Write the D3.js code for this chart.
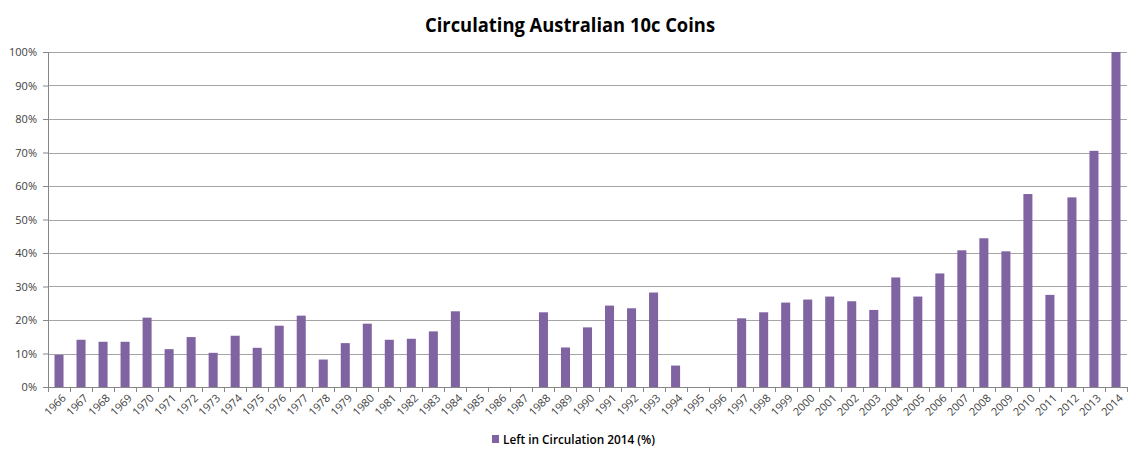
<!DOCTYPE html>
<html>
<head>
<meta charset="utf-8">
<script src="https://cdn.jsdelivr.net/npm/d3@7"></script>
<style>
  html, body { margin: 0; padding: 0; background: #fff; }
  text { font-family: "Open Sans", "Noto Sans", sans-serif; }
</style>
</head>
<body>
<svg id="chart" width="1140" height="464"></svg>
<script>
// Years 1966..2014
const years = d3.range(1966, 2015).map(String);

// Left in circulation 2014 (%)
const leftInCirculation = [
  9.6, 14.1, 13.5, 13.5, 20.7, 11.3, 14.9, 10.2, 15.3, 11.7,
  18.3, 21.3, 8.2, 13.1, 18.9, 14.1, 14.4, 16.6, 22.6, 0,
  0, 0, 22.3, 11.8, 17.8, 24.3, 23.5, 28.2, 6.4, 0,
  0, 20.5, 22.3, 25.2, 26.1, 27.0, 25.6, 23.0, 32.7, 27.0,
  33.9, 40.8, 44.4, 40.5, 57.6, 27.5, 56.6, 70.5, 100
];

const yTicks = [0, 10, 20, 30, 40, 50, 60, 70, 80, 90, 100];

const title = 'Circulating Australian 10c Coins';
const seriesName = 'Left in Circulation 2014 (%)';
const barColor = '#8064a2';

const svg = d3.select('#chart');
const margin = { top: 52, right: 13, bottom: 77, left: 48 };
const width = 1140 - margin.left - margin.right;
const height = 464 - margin.top - margin.bottom;

const x = d3.scaleBand()
  .domain(years)
  .range([0, width])
  .paddingInner(0.59)
  .paddingOuter(0.295);

const y = d3.scaleLinear()
  .domain([0, 100])
  .range([height, 0]);

const g = svg.append('g')
  .attr('transform', `translate(${margin.left},${margin.top})`);

// gridlines
g.append('g')
  .selectAll('line')
  .data(yTicks.filter(d => d > 0))
  .join('line')
  .attr('x1', 0)
  .attr('x2', width)
  .attr('y1', d => Math.round(y(d)) + 0.5)
  .attr('y2', d => Math.round(y(d)) + 0.5)
  .attr('stroke', '#a5a5a5')
  .attr('stroke-width', 1);

// bars
g.append('g')
  .selectAll('rect')
  .data(leftInCirculation)
  .join('rect')
  .attr('x', (d, i) => x(years[i]))
  .attr('width', x.bandwidth())
  .attr('y', d => y(d))
  .attr('height', d => height - y(d))
  .attr('fill', barColor);

// y axis
const yAxis = g.append('g')
  .call(d3.axisLeft(y).tickValues(yTicks).tickSize(5).tickPadding(6).tickFormat(d => d + '%'));
yAxis.select('.domain').attr('stroke', '#868686').attr('d', `M0.5,${height}V0`);
yAxis.selectAll('.tick line').attr('stroke', '#868686');
yAxis.selectAll('.tick text')
  .attr('fill', '#404040')
  .style('font-size', '11px');

// x axis: ticks between categories
const xAxisG = g.append('g').attr('transform', `translate(0,${height})`);
xAxisG.append('line')
  .attr('x1', 0).attr('x2', width)
  .attr('y1', 0.5).attr('y2', 0.5)
  .attr('stroke', '#868686');
const step = x.step();
xAxisG.selectAll('.sep')
  .data(d3.range(years.length + 1))
  .join('line')
  .attr('class', 'sep')
  .attr('x1', i => Math.round(i * step) + 0.5)
  .attr('x2', i => Math.round(i * step) + 0.5)
  .attr('y1', 0)
  .attr('y2', 5)
  .attr('stroke', '#868686');

xAxisG.selectAll('.lbl')
  .data(years)
  .join('text')
  .attr('class', 'lbl')
  .attr('transform', d => `translate(${x(d) + x.bandwidth() / 2 + 5},${9}) rotate(-45)`)
  .attr('text-anchor', 'end')
  .attr('dy', '0.35em')
  .attr('fill', '#404040')
  .style('font-size', '11px')
  .text(d => d);

// title
svg.append('text')
  .attr('x', 570)
  .attr('y', 32)
  .attr('text-anchor', 'middle')
  .attr('fill', '#000')
  .style('font-size', '19px')
  .style('font-weight', 'bold')
  .attr('textLength', 290)
  .attr('lengthAdjust', 'spacingAndGlyphs')
  .text(title);

// legend
const legend = svg.append('g').attr('transform', 'translate(492,435)');
legend.append('rect')
  .attr('width', 7)
  .attr('height', 8)
  .attr('fill', barColor);
legend.append('text')
  .attr('x', 11)
  .attr('y', 9)
  .attr('fill', '#000')
  .style('font-size', '12px')
  .style('font-weight', '600')
  .attr('textLength', 152)
  .attr('lengthAdjust', 'spacingAndGlyphs')
  .text(seriesName);
</script>
</body>
</html>
